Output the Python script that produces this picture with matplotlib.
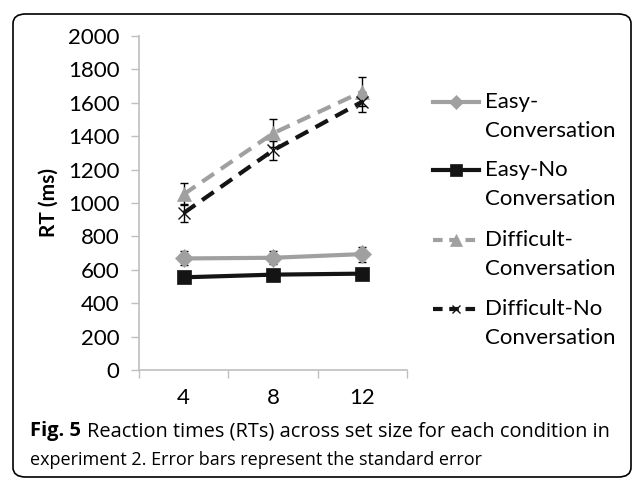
import matplotlib
matplotlib.use("Agg")
import matplotlib.pyplot as plt
from matplotlib.lines import Line2D
from matplotlib.patches import FancyBboxPatch

plt.rcParams['font.family'] = ['Lato', 'DejaVu Sans']

# data
set_sizes = ['4', '8', '12']
easy_conv = [668, 672, 694]
easy_conv_se = [42, 40, 45]
easy_noconv = [555, 571, 577]
easy_noconv_se = [12, 12, 12]
diff_conv = [1052, 1417, 1667]
diff_conv_se = [65, 84, 88]
diff_noconv = [940, 1315, 1607]
diff_noconv_se = [55, 55, 60]
labels = [('Easy-', 'Conversation'), ('Easy-No', 'Conversation'),
          ('Difficult-', 'Conversation'), ('Difficult-No', 'Conversation')]

W, H = 633, 479
fig = plt.figure(figsize=(W / 100, H / 100), dpi=100)
ax = fig.add_axes([139 / W, 1 - 370 / H, (407 - 139) / W, (370 - 36) / H])

gray = '#a0a0a0'
black = '#141414'
x = [1, 2, 3]
dash = (0, (3.4, 2.0))

series = [
    (easy_conv, easy_conv_se, gray, '-', 'D', 9),
    (easy_noconv, easy_noconv_se, black, '-', 's', 10),
    (diff_conv, diff_conv_se, gray, dash, '^', 10),
    (diff_noconv, diff_noconv_se, black, dash, 'x', 8),
]

for vals, se, col, ls, mk, ms in series:
    ax.errorbar(x, vals, yerr=se, fmt='none', ecolor='black', elinewidth=1,
                capsize=3, capthick=1, zorder=2)
for vals, se, col, ls, mk, ms in series:
    ax.plot(x, vals, color=col, linestyle=ls, linewidth=3, marker=mk,
            markersize=ms, markerfacecolor=col, markeredgecolor=col,
            markeredgewidth=1 if mk == 'x' else 0.5, zorder=3)

ax.set_xlim(0.5, 3.5)
ax.set_ylim(0, 2000)
ax.set_yticks(range(0, 2001, 200))
ax.set_xticks([0.5, 1.5, 2.5, 3.5])
ax.set_xticklabels([])
ax.set_xticks(x, minor=True)
ax.set_xticklabels(set_sizes, minor=True)
ax.tick_params(axis='x', which='minor', length=0, pad=13, labelsize=16)
ax.tick_params(axis='x', which='major', direction='out', length=6,
               color='#bfbfbf', width=1)
ax.tick_params(axis='y', direction='out', length=6, color='#bfbfbf',
               width=1, labelsize=16, pad=8)
for s in ['top', 'right']:
    ax.spines[s].set_visible(False)
for s in ['left', 'bottom']:
    ax.spines[s].set_color('#bfbfbf')
    ax.spines[s].set_linewidth(1.2)
ax.set_ylabel('RT (ms)', fontsize=15, fontweight='bold')
ax.yaxis.set_label_coords((59 - 139) / 268, (370 - 202) / 334)

# legend drawn by hand so the handle sits on the first text line
leg_y = [102, 170, 240, 309]
for (vals, se, col, ls, mk, ms), (l1, l2), yy in zip(series, labels, leg_y):
    yf = 1 - yy / H
    fig.add_artist(Line2D([433 / W, 479 / W], [yf, yf], color=col,
                          linestyle=ls if ls == '-' else (0, (2.3, 1.6)),
                          linewidth=3))
    fig.add_artist(Line2D([456 / W], [yf], marker=mk, markersize=ms * 0.8,
                          color=col, markeredgecolor=col, linestyle='none',
                          markeredgewidth=1 if mk == 'x' else 0.5))
    fig.text(485 / W, yf, l1, fontsize=16, va='center', ha='left')
    fig.text(485 / W, 1 - (yy + 29) / H, l2, fontsize=16, va='center',
             ha='left')

# caption, bold "Fig. 5" followed by regular text
cap_font = dict(family='Open Sans', va='center', ha='left')
bold = fig.text(30 / W, 1 - 431 / H, 'Fig. 5', fontweight='bold',
                fontsize=14.5, **cap_font)
fig.canvas.draw()
bb = bold.get_window_extent()
fig.text((bb.x1 + 6) / W, 1 - 431 / H,
         'Reaction times (RTs) across set size for each condition in',
         fontsize=14.4, **cap_font)
fig.text(30 / W, 1 - 460 / H,
         'experiment 2. Error bars represent the standard error',
         fontsize=13, **cap_font)

frame = FancyBboxPatch((13 / W, 2 / H), (631 - 13) / W, (H - 14 - 2) / H,
                       boxstyle='round,pad=0,rounding_size=0.02',
                       transform=fig.transFigure, fill=False,
                       edgecolor='black', linewidth=1.2)
fig.add_artist(frame)

fig.savefig('out.png', dpi=100)
